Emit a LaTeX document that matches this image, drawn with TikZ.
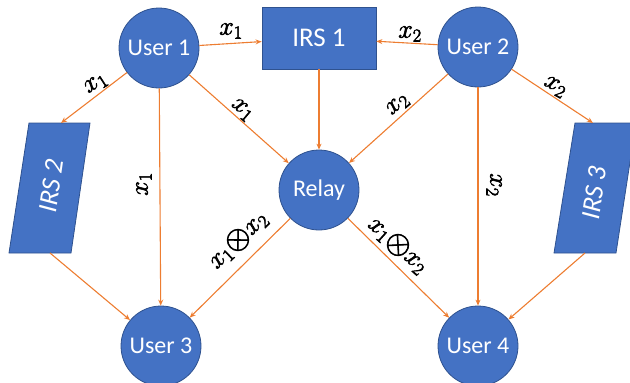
\RequirePackage{fix-cm}
\documentclass[tikz,border=0pt]{standalone}
\usepackage{fontspec}
\setmainfont{Carlito}
\usetikzlibrary{arrows.meta}
\definecolor{nodeblue}{HTML}{4472C4}
\definecolor{edgeblue}{HTML}{2F528F}
\definecolor{linkorange}{HTML}{ED7D31}
% heavier strokes for the link labels (fill + stroke text rendering)
\newcommand\heavylabel[1]{\special{pdf:literal 2 Tr 0.6 w}#1\special{pdf:literal 0 Tr}}
\newcommand\xor{\mathord{\vcenter{\hbox{\scalebox{1.25}{$\otimes$}}}}}
\tikzset{
  user/.style={circle, fill=nodeblue, draw=edgeblue, line width=0.8pt,
    minimum size=80pt, inner sep=0pt, text=white,
    font=\fontsize{24}{24}\selectfont},
  irsbox/.style={rectangle, fill=nodeblue, draw=edgeblue, line width=0.8pt,
    minimum width=114pt, minimum height=62pt, inner sep=0pt, text=white,
    font=\fontsize{27}{27}\selectfont},
  irsslant/.style={fill=nodeblue, draw=edgeblue, line width=0.8pt},
  irstext/.style={inner sep=0pt, text=white, rotate=82,
    font=\fontsize{27}{27}\selectfont\itshape},
  link/.style={draw=linkorange, line width=1.1pt, -{Stealth[length=6pt,width=5pt]}},
  lab/.style={inner sep=0pt, font=\fontsize{26}{26}\selectfont}
}
\begin{document}
\begin{tikzpicture}[x=1pt,y=-1pt]
\useasboundingbox (0,0) rectangle (630,383);

% nodes
\node[user] (u1) at (159,48) {User 1};
\node[user] (u2) at (478,47) {User 2};
\node[user] (relay) at (319,190) {Relay};
\node[user] (u3) at (161,346) {User 3};
\node[user] (u4) at (478,346) {User 4};
\node[irsbox] (irs1) at (319,38) {IRS 1};

% slanted surfaces
\filldraw[irsslant] (29,123) -- (90,123) -- (71,253) -- (9,253) -- cycle;
\node[irstext] (irs2) at (51,186) {IRS 2};
\filldraw[irsslant] (575,123) -- (636,123) -- (616,253) -- (554,253) -- cycle;
\node[irstext] (irs3) at (594,193) {IRS 3};
\coordinate (irs2top) at (61,123);
\coordinate (irs2bot) at (50,253);
\coordinate (irs3top) at (593,123);
\coordinate (irs3bot) at (585,253);

% links
\draw[link] (u1) -- (irs1);
\draw[link] (u2) -- (irs1);
\draw[link] (u1) -- (irs2top);
\draw[link] (u1) -- (relay);
\draw[link] (u1) -- (u3);
\draw[link] (irs1) -- (relay);
\draw[link] (u2) -- (relay);
\draw[link] (u2) -- (irs3top);
\draw[link] (u2) -- (u4);
\draw[link] (irs2bot) -- (u3);
\draw[link] (relay) -- (u3);
\draw[link] (relay) -- (u4);
\draw[link] (irs3bot) -- (u4);

% link labels
\node[lab] (l1) at (231,31) {\heavylabel{$x_1$}};
\node[lab] (l2) at (410,34) {\heavylabel{$x_2$}};
\node[lab, rotate=33] (l3) at (96,84) {\heavylabel{$x_1$}};
\node[lab, rotate=-40] (l4) at (242,110) {\heavylabel{$x_1$}};
\node[lab, rotate=90] (l5) at (144,184) {\heavylabel{$x_1$}};
\node[lab, rotate=41] (l6) at (398,105) {\heavylabel{$x_2$}};
\node[lab, rotate=-29] (l7) at (555,87) {\heavylabel{$x_2$}};
\node[lab, rotate=-90] (l8) at (494,185) {\heavylabel{$x_2$}};
\node[lab, rotate=44] (l9) at (238,240) {\heavylabel{$x_1\xor x_2$}};
\node[lab, rotate=-42] (l10) at (398,245) {\heavylabel{$x_1\xor x_2$}};
\end{tikzpicture}
\end{document}
